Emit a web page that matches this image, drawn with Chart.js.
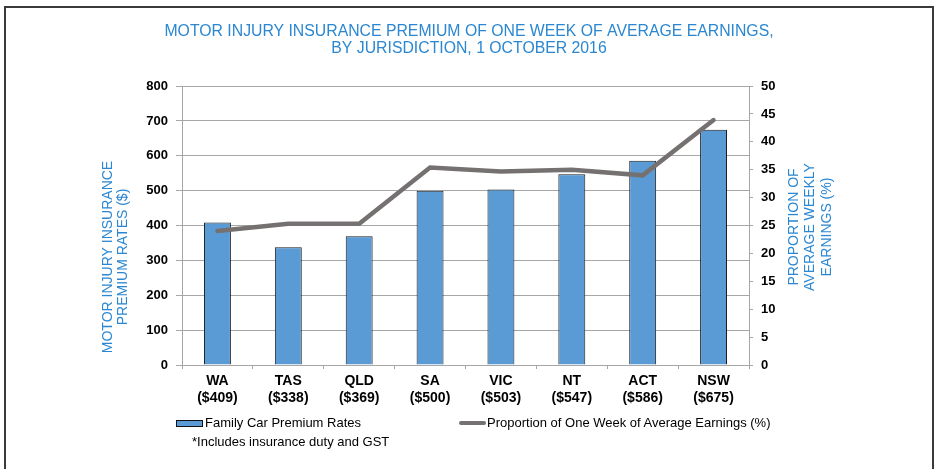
<!DOCTYPE html>
<html>
<head>
<meta charset="utf-8">
<script src="https://cdn.jsdelivr.net/npm/chart.js@4.4.1/dist/chart.umd.min.js"></script>
<style>
  html, body { margin: 0; padding: 0; background: #fff; }
  #quadro { position: relative; width: 938px; height: 469px; overflow: hidden; font-family: 'Liberation Sans', Arial, sans-serif; }
  #moldura { position: absolute; left: 4px; top: 6px; width: 930px; height: 480px; border: 2px solid #3a3a3a; box-sizing: border-box; }
  #dash { position: absolute; left: 0; top: 0; }
  .leg { position: absolute; font-size: 13px; line-height: 15px; color: #000; white-space: nowrap; }
  .caixa { position: absolute; box-sizing: border-box; }
</style>
</head>
<body>
<div id="quadro">
  <div id="moldura"></div>
  <canvas id="dash" width="938" height="469"></canvas>
  <div class="caixa" style="left:176px;top:420px;width:27px;height:7px;background:#5b9bd5;border:1px solid #111;"></div>
  <div class="leg" style="left:205px;top:415px;">Family Car Premium Rates</div>
  <div class="caixa" style="left:459px;top:421px;width:27px;height:4px;background:#767171;border-radius:2px;"></div>
  <div class="leg" style="left:487px;top:415px;">Proportion of One Week of Average Earnings (%)</div>
  <div class="leg" style="left:192px;top:434px;">*Includes insurance duty and GST</div>
</div>
<script>
(function (win, doc) {
  'use strict';

  // dados do grafico
  const regioes = ['WA', 'TAS', 'QLD', 'SA', 'VIC', 'NT', 'ACT', 'NSW'];
  const premios = [409, 338, 369, 500, 503, 547, 586, 675];
  const proporcao = [24.0, 25.3, 25.3, 35.4, 34.7, 35.0, 34.0, 43.9];
  const ticksPremio = [0, 100, 200, 300, 400, 500, 600, 700, 800];
  const ticksProporcao = [0, 5, 10, 15, 20, 25, 30, 35, 40, 45, 50];

  const azul = '#2b87d1';
  const cinza = '#a6a6a6';
  const fonte = "'Liberation Sans', Arial, sans-serif";

  Chart.defaults.font.family = fonte;

  // rotulos do eixo x: regiao + valor do premio
  const rotulos = regioes.map(function (r, i) {
    return [r, '($' + premios[i] + ')'];
  });

  // titulos dos eixos (rotacionados, linhas centralizadas)
  const titulosEixos = {
    id: 'titulosEixos',
    afterDraw: function (chart) {
      const ctx = chart.ctx;
      function escreve(linhas, x, y, passo) {
        ctx.save();
        ctx.translate(x, y);
        ctx.rotate(-Math.PI / 2);
        linhas.forEach(function (t, i) {
          ctx.fillText(t, 0, i * passo);
        });
        ctx.restore();
      }
      ctx.save();
      ctx.fillStyle = azul;
      ctx.font = '14px ' + fonte;
      ctx.textAlign = 'center';
      ctx.textBaseline = 'middle';
      escreve(['MOTOR INJURY INSURANCE', 'PREMIUM RATES ($)'], 108, 257, 15.5);
      escreve(['PROPORTION OF', 'AVERAGE WEEKLY', 'EARNINGS (%)'], 794, 227, 16.5);
      ctx.restore();
    }
  };

  let dash = doc.getElementById('dash');

  let grafico = new Chart(dash, {
    data: {
      labels: rotulos,
      datasets: [{
        type: 'line',
        label: 'Proportion of One Week of Average Earnings (%)',
        data: proporcao,
        yAxisID: 'y1',
        borderColor: '#767171',
        borderWidth: 4.5,
        borderCapStyle: 'round',
        pointRadius: 0,
        tension: 0,
        order: 1
      }, {
        type: 'bar',
        label: 'Family Car Premium Rates',
        data: premios,
        yAxisID: 'y',
        backgroundColor: '#5b9bd5',
        borderColor: '#1a1a1a',
        borderWidth: 1,
        barPercentage: 0.38,
        categoryPercentage: 1,
        order: 2
      }]
    },
    options: {
      responsive: false,
      animation: false,
      layout: { padding: 0 },
      plugins: {
        legend: { display: false },
        tooltip: { enabled: false },
        title: {
          display: true,
          text: ['MOTOR INJURY INSURANCE PREMIUM OF ONE WEEK OF AVERAGE EARNINGS,', 'BY JURISDICTION, 1 OCTOBER 2016'],
          color: azul,
          font: { size: 15.8, weight: 'normal', lineHeight: 1.1 },
          padding: { top: 23, bottom: 28.3 }
        }
      },
      scales: {
        x: {
          grid: { offset: true, drawOnChartArea: false, tickLength: 4, color: cinza },
          border: { color: cinza },
          ticks: {
            color: '#000',
            font: { size: 14, weight: 'bold', lineHeight: 1.2 },
            padding: 4,
            maxRotation: 0,
            autoSkip: false
          },
          afterFit: function (s) { s.height = 104; }
        },
        y: {
          position: 'left',
          min: ticksPremio[0],
          max: ticksPremio[ticksPremio.length - 1],
          grid: { color: cinza, tickLength: 6 },
          border: { color: cinza },
          ticks: {
            stepSize: ticksPremio[1] - ticksPremio[0],
            color: '#000',
            font: { size: 13, weight: 'bold' },
            padding: 8
          },
          afterFit: function (s) { s.width = 182; }
        },
        y1: {
          position: 'right',
          min: ticksProporcao[0],
          max: ticksProporcao[ticksProporcao.length - 1],
          grid: { drawOnChartArea: false, color: cinza, tickLength: 4 },
          border: { color: cinza },
          ticks: {
            stepSize: ticksProporcao[1] - ticksProporcao[0],
            color: '#000',
            font: { size: 13, weight: 'bold' },
            padding: 8
          },
          afterFit: function (s) { s.width = 189; }
        }
      }
    },
    plugins: [titulosEixos]
  });
})(window, document);
</script>
</body>
</html>
